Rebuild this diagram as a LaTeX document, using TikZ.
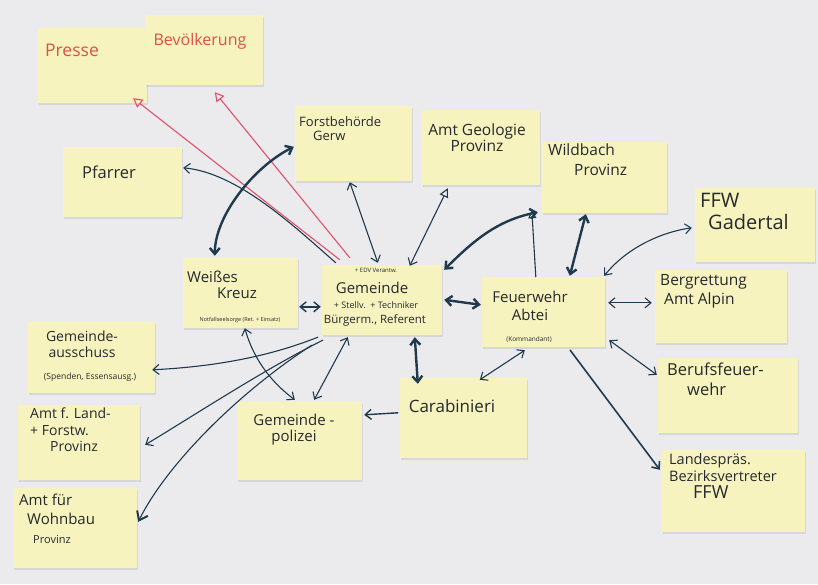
\documentclass[tikz,border=0pt]{standalone}
\usepackage{fontspec}
\setmainfont{Open Sans}
\usetikzlibrary{arrows.meta,calc,shadows}
\definecolor{paper}{HTML}{EBEBED}
\definecolor{notey}{HTML}{F6F3BF}
\definecolor{ink}{HTML}{26292E}
\definecolor{pen}{HTML}{1F3A4D}
\definecolor{redpen}{HTML}{E0506A}
\definecolor{redtxt}{HTML}{DC5244}
\tikzset{
  note/.style={rectangle, fill=notey, draw=none, inner sep=0pt,
    drop shadow={shadow xshift=1pt, shadow yshift=-1.5pt, opacity=0.18}},
  txt/.style={text=ink, inner sep=0pt, align=center, font=\fontsize{15}{17}\selectfont},
  rtxt/.style={text=redtxt, inner sep=0pt, font=\fontsize{15}{17}\selectfont},
  link/.style={draw=pen, line width=1.1pt, line cap=round},
  thick link/.style={draw=pen, line width=2.4pt, line cap=round},
  redlink/.style={draw=redpen, line width=1.1pt, -{Triangle[open,length=9pt,width=10pt]}},
  >={Straight Barb[length=6pt,width=10pt]}
}
\begin{document}
\begin{tikzpicture}[x=1pt,y=-1pt]
\useasboundingbox[fill=paper] (0,0) rectangle (818,584);

% notes
\node[note, minimum width=109pt, minimum height=75pt] (presse) at (92.5,65.5) {};
\node[note, minimum width=118pt, minimum height=70pt] (bev) at (204,50) {};
\node[note, minimum width=119pt, minimum height=70pt] (pfarrer) at (122.5,182) {};
\node[note, minimum width=117pt, minimum height=75pt] (forst) at (353.5,143.5) {};
\node[note, minimum width=118pt, minimum height=75pt] (geo) at (481,147.5) {};
\node[note, minimum width=125pt, minimum height=71pt] (wild) at (604.5,177.5) {};
\node[note, minimum width=120pt, minimum height=74pt] (gader) at (755,225) {};
\node[note, minimum width=115pt, minimum height=70pt] (wk) at (240.5,293) {};
\node[note, minimum width=120pt, minimum height=70pt] (gem) at (382,300) {};
\node[note, minimum width=123pt, minimum height=70pt] (fw) at (543.5,312) {};
\node[note, minimum width=132pt, minimum height=73pt] (berg) at (721,306.5) {};
\node[note, minimum width=140pt, minimum height=75pt] (beruf) at (728,395.5) {};
\node[note, minimum width=143pt, minimum height=82pt] (landes) at (733.5,491) {};
\node[note, minimum width=127pt, minimum height=80pt] (carab) at (463.5,418) {};
\node[note, minimum width=125pt, minimum height=78pt] (pol) at (299.5,441) {};
\node[note, minimum width=127pt, minimum height=71pt] (aus) at (91.5,357.5) {};
\node[note, minimum width=122pt, minimum height=75pt] (land) at (79,442.5) {};
\node[note, minimum width=124pt, minimum height=80pt] (wohn) at (75,528) {};

% texts
\node[rtxt, font=\fontsize{17.5}{19}\selectfont] (t-presse) at (72,50) {Presse};
\node[rtxt, font=\fontsize{16}{18}\selectfont] (t-bev) at (200,41) {Bevölkerung};
\node[txt, font=\fontsize{16.5}{18}\selectfont] (t-pfarrer) at (109,172) {Pfarrer};
\node[txt, align=left, anchor=north west, font=\fontsize{13}{15}\selectfont] (t-forst) at (299,116) {Forstbehörde\\[-1pt]\hspace*{14pt}Gerw};
\node[txt, font=\fontsize{15.5}{17}\selectfont] (t-geo) at (477,138) {Amt Geologie\\[-1pt]Provinz};
\node[txt, align=left, anchor=north west, font=\fontsize{15.5}{18}\selectfont] (t-wild) at (548,144) {Wildbach\\[2pt]\hspace*{26pt}Provinz};
\node[txt, align=left, anchor=north west, font=\fontsize{20}{22}\selectfont] (t-gader) at (700,193) {FFW\\\hspace*{8pt}Gadertal};
\node[txt, align=left, anchor=north west, font=\fontsize{15}{17}\selectfont] (t-wk) at (187,271) {Weißes\\[-1pt]\hspace*{30pt}Kreuz};
\node[txt, font=\fontsize{5.5}{6}\selectfont] (t-wk2) at (240,320) {Notfallseelsorge (Ret. + Einsatz)};
\node[txt, font=\fontsize{6}{7}\selectfont] (t-gem0) at (376,270) {+ EDV Verantw.};
\node[txt, font=\fontsize{15}{17}\selectfont] (t-gem1) at (372,288) {Gemeinde};
\node[txt, font=\fontsize{9}{10}\selectfont] (t-gem2) at (376,305) {+ Stellv.\ \ + Techniker};
\node[txt, font=\fontsize{11.5}{13}\selectfont] (t-gem3) at (375,320) {Bürgerm., Referent};
\node[txt, font=\fontsize{15}{17}\selectfont] (t-fw) at (530,306) {Feuerwehr\\[1pt]Abtei};
\node[txt, font=\fontsize{6.5}{8}\selectfont] (t-fw2) at (529,340) {(Kommandant)};
\node[txt, align=left, anchor=north west, font=\fontsize{15.5}{19}\selectfont] (t-berg) at (660,274) {Bergrettung\\\hspace*{4pt}Amt Alpin};
\node[txt, align=left, anchor=north west, font=\fontsize{16.5}{20}\selectfont] (t-beruf) at (667,363) {Berufsfeuer-\\\hspace*{20pt}wehr};
\node[txt, align=left, anchor=north west, font=\fontsize{14.5}{17}\selectfont] (t-landes) at (669,453) {Landespräs.\\Bezirksvertreter\\\hspace*{24pt}{\fontsize{18}{19}\selectfont FFW}};
\node[txt, font=\fontsize{17}{19}\selectfont] (t-carab) at (452,406) {Carabinieri};
\node[txt, font=\fontsize{15}{17}\selectfont] (t-pol) at (294,430) {Gemeinde -\\[-1pt]polizei};
\node[txt, font=\fontsize{14}{16}\selectfont] (t-aus) at (82,344) {Gemeinde-\\ausschuss};
\node[txt, font=\fontsize{8.5}{10}\selectfont] (t-aus2) at (90,377) {(Spenden, Essensausg.)};
\node[txt, align=left, anchor=north west, font=\fontsize{14}{16.5}\selectfont] (t-land) at (30,408) {Amt f. Land-\\+ Forstw.\\\hspace*{20pt}Provinz};
\node[txt, align=left, anchor=north west, font=\fontsize{15}{19}\selectfont] (t-wohn) at (19,494) {Amt für\\\hspace*{8pt}Wohnbau\\\hspace*{14pt}{\fontsize{11}{12}\selectfont Provinz}};

% red connectors
\draw[redlink] ($(gem.north west)+(18,-5)$) -- ($(presse.south east)+(-14,-5)$);
\draw[redlink] ($(gem.north west)+(28,-7)$) -- ($(bev.south west)+(70,7)$);

% dark connectors
\draw[link,->] ($(gem.north west)+(14,-2)$) .. controls +(-40,-35) and +(55,5) .. ($(pfarrer.north east)+(1,21)$);
\draw[thick link,<->] ($(wk.north west)+(32,-2)$) .. controls +(0,-40) and +(-40,20) .. ($(forst.north west)+(-1,41)$);
\draw[link,<->] ($(gem.north west)+(56,-2)$) -- ($(forst.south west)+(55,1)$);
\draw[link,{Straight Barb[length=6pt,width=10pt]}-{Triangle[open,length=9pt,width=9pt]}] ($(gem.north west)+(88,1)$) -- ($(geo.south west)+(26,3)$);
\draw[thick link,<->] ($(gem.north east)+(2,5)$) .. controls +(30,-30) and +(-40,8) .. ($(wild.south west)+(-4,-1)$);
\draw[link,-{Triangle[open,length=8pt,width=8pt]}] ($(fw.north west)+(54,0)$) -- ($(wild.south west)+(-10,-3)$);
\draw[thick link,<->] ($(fw.north west)+(88,-1)$) -- ($(wild.south west)+(44,1)$);
\draw[link,<->] ($(fw.north east)+(-1,-1)$) .. controls +(20,-25) and +(-35,5) .. ($(gader.north west)+(-3,40)$);
\draw[link,<->] ($(fw.north east)+(3,26)$) -- ($(berg.north west)+(-3,33)$);
\draw[link,<->] ($(fw.south east)+(4,-7)$) -- ($(beruf.north west)+(-1,17)$);
\draw[link,line width=1.6pt,->] ($(fw.south east)+(-35,3)$) -- ($(landes.north west)+(-2,20)$);
\draw[thick link,<->] ($(gem.north east)+(2,35)$) -- ($(fw.north west)+(-1,28)$);
\draw[link,line width=1.4pt,<->] ($(wk.north east)+(1,49)$) -- ($(gem.north west)+(-1,42)$);
\draw[thick link,<->] ($(gem.south west)+(93,2)$) -- ($(carab.north west)+(18,6)$);
\draw[link,<->] ($(carab.north west)+(80,2)$) -- ($(fw.south west)+(43,3)$);
\draw[link,line width=1.4pt,->] ($(carab.north west)+(-2,35)$) -- ($(pol.north east)+(2,13)$);
\draw[link,<->] ($(gem.south west)+(26,2)$) -- ($(pol.north east)+(-48,-2)$);
\draw[link,<->] ($(wk.south west)+(62,0)$) .. controls +(10,35) and +(-20,-15) .. ($(pol.north west)+(58,-2)$);
\draw[link,->] ($(gem.south west)+(-4,2)$) .. controls +(-50,20) and +(60,-3) .. ($(aus.north east)+(-3,48)$);
\draw[link,->] ($(gem.south west)+(1,5)$) .. controls +(-60,30) and +(50,-30) .. ($(land.north east)+(5,40)$);
\draw[link,-{Straight Barb[length=8pt,width=12pt,line width=2pt]}] ($(gem.south west)+(-10,10)$) .. controls +(-70,45) and +(30,-60) .. ($(wohn.north east)+(1,34)$);
\end{tikzpicture}
\end{document}
